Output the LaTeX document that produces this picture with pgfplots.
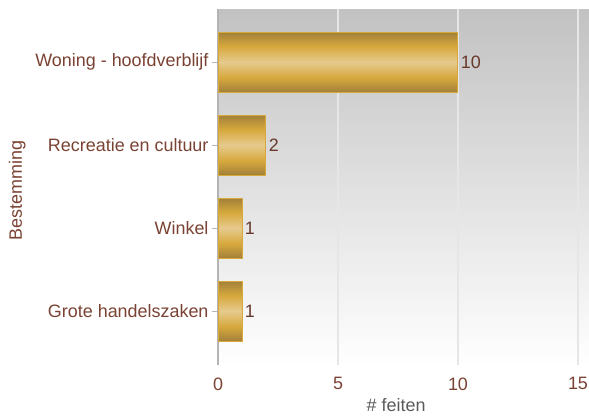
\documentclass[border=0pt]{standalone}
\usepackage{pgfplots}
\pgfplotsset{compat=1.18}
\usepackage{fontspec}
\setmainfont{Liberation Sans}
\definecolor{txtbrown}{HTML}{7A4232}
\definecolor{axgray}{HTML}{B4B4B4}
\definecolor{griddy}{HTML}{E6E6E6}
\definecolor{golddark}{HTML}{A2803A}
\definecolor{goldmid}{HTML}{D6A83C}
\definecolor{goldlight}{HTML}{E6CA8E}
\definecolor{goldedge}{HTML}{D8A838}
\pgfdeclareverticalshading{goldbar}{100bp}{color(0bp)=(golddark); color(25bp)=(golddark); color(37bp)=(goldmid); color(50bp)=(goldlight); color(63bp)=(goldmid); color(75bp)=(golddark); color(100bp)=(golddark)}
\newcommand{\lblfont}{\fontsize{18}{20}\selectfont}
\begin{document}
\begin{tikzpicture}[x=1bp,y=1bp]
\useasboundingbox (0,0) rectangle (589,417);
\begin{axis}[
  at={(218bp,52bp)}, anchor=south west,
  scale only axis, width=371bp, height=356bp,
  xbar, bar width=60bp,
  xmin=0, xmax=15.46,
  ymin=-0.64, ymax=3.65, y dir=reverse,
  ytick={0,1,2,3},
  yticklabels={Woning - hoofdverblijf, Recreatie en cultuur, Winkel, Grote handelszaken},
  xtick={0,5,10,15},
  axis x line*=bottom,
  axis y line*=left,
  x axis line style={draw=none,-},
  y axis line style={axgray, line width=1.2bp,-},
  xtick style={draw=none},
  ytick style={axgray, line width=1bp},
  major tick length=6bp,
  tick align=outside,
  xmajorgrids, grid style={griddy, line width=1.2bp},
  axis background/.style={top color=black!24, bottom color=white},
  ticklabel style={font=\lblfont, text=txtbrown},
  xticklabel style={yshift=-3bp},
  /pgf/number format/assume math mode=true,
  xlabel={\# feiten}, xlabel style={font=\lblfont, text=black!65, at={(axis description cs:0.48,-0.112)}, anchor=center},
  ylabel={Bestemming}, ylabel style={font=\lblfont, text=txtbrown, at={(axis description cs:-0.541,0.49)}, anchor=center},
  nodes near coords,
  nodes near coords style={font=\lblfont, text=txtbrown!85!black, anchor=west, xshift=-1bp},
  clip=false,
]
\addplot[draw=goldedge, line width=1bp, shading=goldbar, bar shift=0pt] coordinates {(10,0)};
\addplot[draw=goldedge, line width=1bp, shading=goldbar, bar shift=0pt] coordinates {(2,1)};
\addplot[draw=goldedge, line width=1bp, shading=goldbar, bar shift=0pt] coordinates {(1,2)};
\addplot[draw=goldedge, line width=1bp, shading=goldbar, bar shift=0pt] coordinates {(1,3)};
\end{axis}
\end{tikzpicture}
\end{document}
